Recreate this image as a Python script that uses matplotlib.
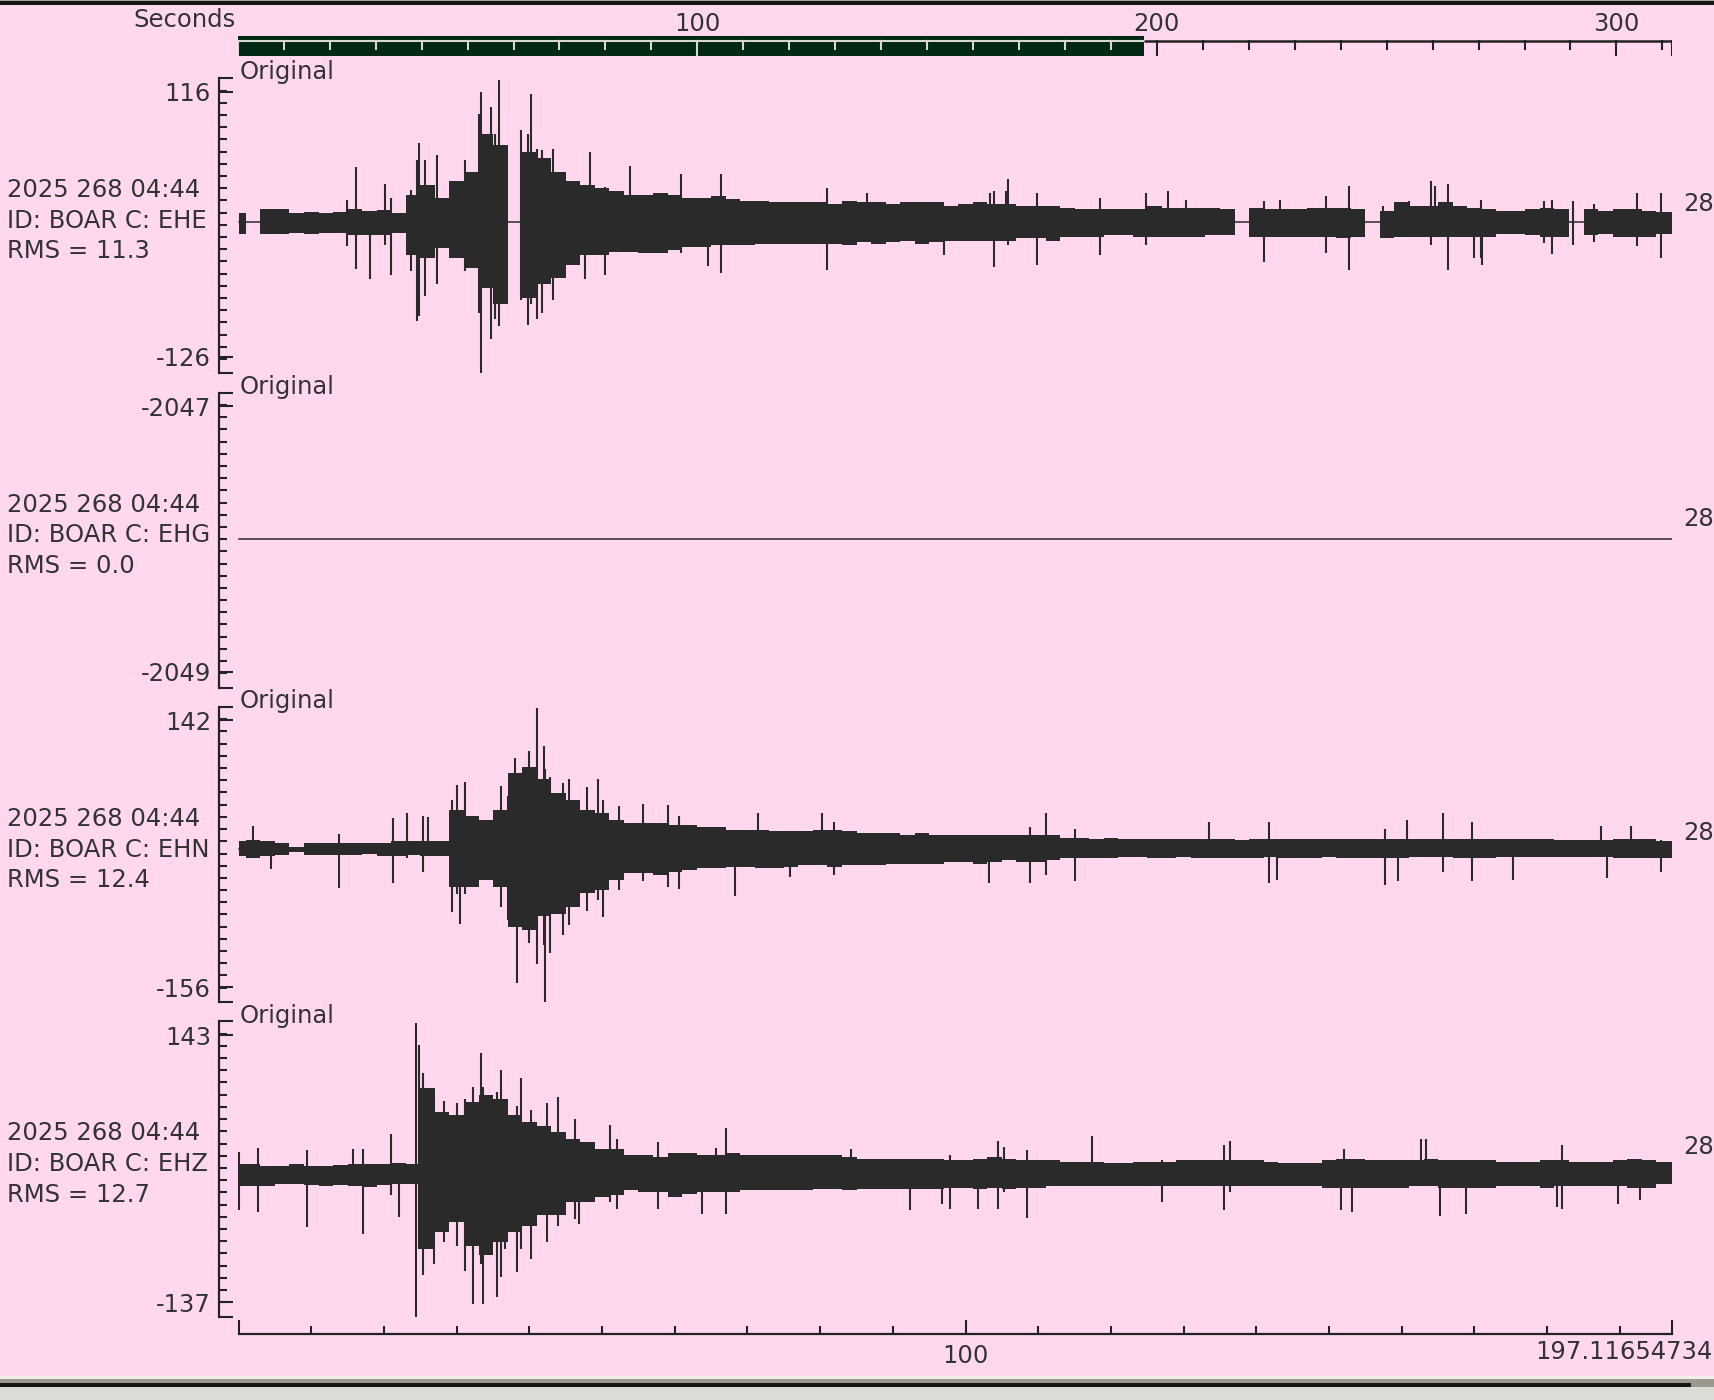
import numpy as np
import matplotlib
matplotlib.use('Agg')
import matplotlib.pyplot as plt
from matplotlib.patches import Rectangle
from matplotlib.ticker import FixedLocator, FixedFormatter, MultipleLocator

W, H = 1714, 1400
BG = '#ffd8f0'
INK = '#2a2a2a'
TXT = '#333333'
GREEN = '#002812'
LIGHT = '#d8d8d0'
FS = 17.5

t_end = 197.11654734
total_len = 312.0
env_t = np.arange(0, 197, 2)  # envelope read every 2 s (0..196)

# --- EHE (counts relative to trace mean) ---
ehe_mean = -3
ehe_up = [8, 0, 12, 12, 8, 9, 8, 9, 12, 10,
          11, 8, 25, 34, 22, 37, 46, 80, 70, 0,
          64, 58, 46, 37, 34, 31, 28, 25, 25, 26,
          25, 22, 22, 24, 21, 19, 19, 18, 18, 18,
          18, 16, 19, 18, 18, 16, 18, 18, 18, 15,
          16, 18, 16, 16, 15, 15, 15, 13, 12, 12,
          12, 12, 12, 15, 13, 13, 13, 13, 12, 0,
          13, 12, 12, 12, 13, 13, 13, 12, 0, 10,
          18, 15, 15, 18, 15, 13, 12, 10, 10, 12,
          13, 12, 0, 12, 10, 12, 12, 10, 9]
ehe_lo = [-11, 0, -11, -11, -10, -11, -10, -10, -12, -12,
          -12, -10, -30, -33, -24, -33, -42, -60, -75, 0,
          -69, -57, -51, -39, -30, -30, -27, -27, -28, -28,
          -26, -23, -23, -21, -21, -21, -20, -20, -20, -20,
          -20, -20, -21, -18, -20, -18, -17, -20, -18, -17,
          -17, -17, -17, -17, -15, -15, -17, -14, -14, -14,
          -12, -12, -14, -14, -14, -14, -14, -12, -12, 0,
          -14, -14, -14, -14, -14, -14, -15, -14, 0, -15,
          -14, -14, -14, -14, -14, -14, -14, -11, -11, -12,
          -14, -14, 0, -12, -11, -14, -14, -14, -11]
ehe_spk_t = [14.9, 16.2, 18.1, 20.1, 20.9, 23.7, 24.5, 24.8, 25.6, 27.3,
             31.1, 33.0, 33.3, 34.7, 35.3, 35.8, 38.8, 39.8, 40.2, 41.0,
             41.8, 43.3, 47.6, 48.4, 50.4, 53.9, 60.8, 64.5, 66.3, 80.9,
             86.4, 97.0, 103.4, 103.9, 105.6, 105.9, 109.8, 118.5, 124.8, 127.9,
             130.3, 141.1, 143.3, 149.6, 152.7, 157.4, 161.0, 164.0, 164.6, 166.4,
             170.0, 170.9, 171.1, 179.5, 180.7, 183.5, 186.4, 192.3, 195.7]
ehe_spk_hi = [20, 50, 10, 35, 22, 29, 57, 72, 57, 61,
              57, 99, 119, 105, 80, 130, 84, 80, 117, 67,
              66, 67, 34, 64, 32, 51, 44, 19, 44, 31,
              26, 13, 26, 28, 28, 39, 26, 22, 26, 28,
              20, 19, 20, 24, 33, 15, 19, 37, 33, 35,
              11, 20, 11, 19, 20, 19, 16, 26, 26]
ehe_spk_lo = [-22, -43, -52, -21, -48, -45, -90, -86, -68, -57,
              -45, -83, -139, -107, -89, -95, -71, -94, -75, -89,
              -83, -71, -52, -27, -48, -27, -28, -40, -47, -44,
              -18, -30, -15, -41, -15, -21, -39, -30, -21, -12,
              -12, -37, -12, -28, -44, -15, -12, -21, -12, -44,
              -33, -33, -39, -19, -29, -21, -18, -22, -33]

# --- EHN ---
ehn_mean = -2
ehn_up = [9, 10, 9, 7, 3, 7, 7, 7, 7, 7,
          7, 9, 9, 9, 9, 44, 37, 33, 44, 85,
          92, 78, 63, 55, 44, 40, 33, 29, 29, 29,
          27, 27, 25, 25, 22, 22, 22, 20, 20, 20,
          22, 22, 20, 18, 18, 18, 16, 18, 16, 16,
          16, 16, 16, 16, 16, 16, 16, 13, 13, 12,
          13, 12, 12, 12, 12, 12, 11, 11, 11, 10,
          11, 11, 12, 12, 11, 11, 11, 11, 11, 12,
          12, 11, 12, 11, 11, 12, 12, 11, 11, 11,
          11, 10, 10, 10, 10, 11, 11, 11, 9]
ehn_lo = [-8, -10, -8, -6, -3, -6, -6, -6, -6, -5,
          -7, -8, -6, -7, -8, -42, -42, -34, -42, -87,
          -90, -75, -72, -64, -49, -45, -34, -27, -27, -29,
          -25, -23, -21, -21, -20, -20, -21, -21, -20, -18,
          -18, -20, -18, -18, -18, -16, -16, -16, -16, -14,
          -14, -16, -14, -12, -14, -14, -12, -10, -10, -10,
          -10, -9, -9, -10, -10, -9, -10, -10, -10, -10,
          -10, -9, -10, -10, -10, -9, -10, -10, -10, -10,
          -10, -9, -9, -9, -10, -10, -10, -9, -9, -9,
          -9, -9, -9, -9, -9, -10, -10, -10, -10]
ehn_spk_t = [2.0, 4.4, 13.8, 21.2, 23.2, 25.3, 26.1, 29.4, 30.1, 30.5,
             31.1, 36.1, 37.0, 38.0, 38.3, 40.0, 41.0, 42.0, 42.1, 42.9,
             44.6, 45.4, 47.9, 49.5, 50.1, 52.3, 55.6, 59.1, 60.6, 68.3,
             71.5, 75.8, 80.2, 81.9, 103.2, 108.9, 111.0, 115.0, 133.5, 141.7,
             142.8, 157.7, 159.5, 160.7, 165.7, 169.6, 175.3, 187.4, 188.2, 191.5,
             195.7]
ehn_spk_hi = [26, 9, 17, 35, 41, 37, 36, 55, 72, 40,
              75, 71, 59, 102, 80, 110, 158, 115, 90, 81,
              74, 78, 70, 79, 55, 48, 51, 50, 37, 20,
              40, 15, 40, 31, 14, 25, 40, 23, 30, 30,
              10, 23, 10, 33, 40, 30, 10, 26, 10, 26,
              10]
ehn_spk_lo = [-8, -22, -43, -38, -10, -25, -8, -70, -50, -83,
              -50, -64, -79, -75, -150, -105, -128, -107, -172, -116,
              -96, -85, -69, -57, -76, -45, -36, -42, -44, -52,
              -15, -31, -15, -29, -38, -38, -29, -36, -8, -38,
              -34, -40, -36, -8, -25, -36, -34, -8, -32, -8,
              -25]

# --- EHZ ---
ehz_mean = -2
ehz_up = [10, 10, 8, 8, 10, 8, 8, 9, 10, 10,
          10, 11, 10, 89, 64, 61, 75, 82, 78, 61,
          54, 50, 43, 36, 33, 26, 26, 19, 19, 17,
          21, 21, 19, 19, 21, 19, 19, 19, 19, 19,
          19, 19, 17, 15, 15, 15, 15, 15, 15, 14,
          14, 15, 17, 15, 14, 14, 14, 12, 12, 12,
          11, 11, 12, 12, 12, 14, 14, 14, 14, 14,
          14, 12, 11, 11, 11, 14, 15, 15, 14, 14,
          14, 14, 15, 14, 14, 14, 14, 12, 12, 12,
          14, 14, 12, 12, 12, 14, 15, 14, 12]
ehz_lo = [-13, -13, -13, -11, -11, -12, -13, -12, -13, -14,
          -12, -11, -11, -79, -62, -51, -76, -86, -72, -62,
          -55, -44, -44, -30, -30, -25, -23, -18, -20, -20,
          -25, -22, -20, -20, -20, -18, -18, -18, -18, -18,
          -17, -17, -18, -17, -17, -17, -16, -17, -16, -15,
          -15, -17, -15, -17, -15, -15, -13, -13, -13, -13,
          -13, -13, -13, -13, -13, -13, -13, -13, -13, -13,
          -13, -13, -13, -13, -13, -15, -15, -15, -15, -15,
          -15, -13, -13, -15, -15, -15, -15, -13, -13, -13,
          -15, -13, -13, -13, -13, -13, -15, -15, -11]
ehz_spk_t = [0.1, 2.6, 9.4, 15.7, 17.1, 20.9, 22.0, 24.4, 24.8, 25.3,
             26.9, 28.2, 30.0, 31.1, 32.2, 33.3, 33.6, 35.5, 36.1, 36.7,
             38.3, 38.8, 40.2, 42.4, 44.0, 46.3, 46.8, 51.1, 52.0, 57.7,
             63.8, 65.7, 67.1, 84.2, 92.4, 96.8, 97.9, 101.7, 104.5, 105.3,
             108.4, 117.4, 127.0, 135.6, 136.4, 151.6, 152.1, 153.2, 162.6, 163.4,
             165.3, 168.9, 181.3, 182.1, 189.8, 192.8]
ehz_spk_hi = [22, 27, 24, 26, 26, 41, 11, 158, 135, 105,
              80, 76, 74, 78, 90, 126, 91, 85, 108, 70,
              71, 100, 66, 74, 80, 57, 30, 51, 36, 33,
              17, 27, 48, 26, 13, 13, 19, 12, 34, 28,
              24, 39, 14, 30, 34, 12, 26, 12, 36, 36,
              12, 12, 12, 30, 12, 13]
ehz_spk_lo = [-39, -41, -56, -13, -64, -23, -46, -152, -79, -107,
              -95, -72, -76, -102, -137, -95, -137, -130, -109, -79,
              -104, -79, -90, -72, -55, -48, -53, -30, -37, -37,
              -43, -18, -43, -16, -39, -32, -37, -37, -37, -20,
              -47, -13, -30, -39, -20, -39, -12, -41, -11, -11,
              -45, -43, -35, -37, -32, -28]

# --- EHG (dead channel, constant) ---
ehg_value = -2048

channels = ['EHE', 'EHG', 'EHN', 'EHZ']
rms_values = ['11.3', '0.0', '12.4', '12.7']
label_ticks = [(-126, 116), (-2049, -2047), (-156, 142), (-137, 143)]
ylims = [(-141.2, 128.2), (-2049.121, -2046.899), (-172.8, 156.9), (-152.2, 157.2)]
traces = {
    'EHE': (ehe_mean, ehe_up, ehe_lo, ehe_spk_t, ehe_spk_hi, ehe_spk_lo),
    'EHN': (ehn_mean, ehn_up, ehn_lo, ehn_spk_t, ehn_spk_hi, ehn_spk_lo),
    'EHZ': (ehz_mean, ehz_up, ehz_lo, ehz_spk_t, ehz_spk_hi, ehz_spk_lo),
}

panel_tops = [78.3, 392.7, 707.1, 1021.5]
panel_h = 295.0
ax_x0, ax_x1 = 219.3, 1671.6


def box(x0, y0, x1, y1):
    # pixel box (from top-left) -> figure fraction rect
    return [x0 / W, 1 - y1 / H, (x1 - x0) / W, (y1 - y0) / H]


plt.rcParams['font.family'] = 'DejaVu Sans'
fig = plt.figure(figsize=(W / 100, H / 100), dpi=100, facecolor=BG)

env_x = np.append(env_t, t_end)

for i, ch in enumerate(channels):
    top = panel_tops[i]
    ymin, ymax = ylims[i]
    ax = fig.add_axes(box(ax_x0, top, ax_x1, top + panel_h))
    ax.set_facecolor('none')
    ax.set_xlim(-(238.6 - ax_x0) / 7.27, t_end)
    ax.set_ylim(ymin, ymax)
    for s in ['top', 'right', 'bottom']:
        ax.spines[s].set_visible(False)
    ax.spines['left'].set_linewidth(1.6)
    ax.spines['left'].set_color('#222222')
    ax.set_xticks([])

    lo_lab, hi_lab = label_ticks[i]
    ax.yaxis.set_major_locator(FixedLocator([ymin, lo_lab, hi_lab, ymax]))
    ax.yaxis.set_major_formatter(FixedFormatter(['', str(lo_lab), str(hi_lab), '']))
    step = (ymax - ymin) / panel_h * 12.2
    ax.yaxis.set_minor_locator(FixedLocator(list(ymax - step * np.arange(1, 24))))
    ax.tick_params(axis='y', which='major', direction='in', length=10, width=1.5,
                   color='#222222', pad=6, labelsize=FS, labelcolor=TXT)
    ax.tick_params(axis='y', which='minor', direction='in', length=6, width=1.5,
                   color='#222222')

    if ch == 'EHG':
        ax.plot([0, t_end], [ehg_value, ehg_value], color=INK, lw=1.1)
    else:
        mean, up, lo, st, shi, slo = traces[ch]
        ax.plot([0, t_end], [mean, mean], color=INK, lw=1.1)
        ax.fill_between(env_x, mean + np.array(lo + [lo[-1]]),
                        mean + np.array(up + [up[-1]]),
                        step='mid', color=INK, linewidth=0)
        ax.vlines(st, mean + np.array(slo), mean + np.array(shi), color=INK, lw=1.5)

    fig.text(239.3 / W, 1 - (top + 1) / H, 'Original', fontsize=FS, color=TXT,
             ha='left', va='baseline')
    for k, line in enumerate(['2025 268 04:44', 'ID: BOAR C: ' + ch,
                              'RMS = ' + rms_values[i]]):
        fig.text(7 / W, 1 - (top + 112 + 30.5 * k) / H, line, fontsize=FS,
                 color=TXT, ha='left', va='center')
    fig.text(1683 / W, 1 - (top + 126) / H, '28', fontsize=FS, color=TXT,
             ha='left', va='center')

# bottom time axis
axb = fig.add_axes(box(238.6, 1320, 1671.6, 1334))
axb.set_facecolor('none')
axb.set_xlim(0, t_end)
axb.set_yticks([])
for s in ['top', 'right', 'left']:
    axb.spines[s].set_visible(False)
axb.spines['bottom'].set_linewidth(1.6)
axb.spines['bottom'].set_color('#222222')
axb.set_xticks([0, 100, t_end])
axb.set_xticklabels(['', '100', ''])
axb.xaxis.set_minor_locator(MultipleLocator(10))
axb.tick_params(axis='x', which='major', direction='in', length=10, width=1.5,
                color='#222222', pad=7, labelsize=FS, labelcolor=TXT)
axb.tick_params(axis='x', which='minor', direction='in', length=6, width=1.5,
                color='#222222')
fig.text(1535 / W, 1 - 1352 / H, '197.11654734', fontsize=FS, color=TXT,
         ha='left', va='center')

# top overview axis (whole record, shown window highlighted)
axt = fig.add_axes(box(237.8, 36, 1671.6, 56))
axt.set_xlim(0, total_len)
axt.set_ylim(0, 1)
axt.axis('off')
axt.add_patch(Rectangle((0, 0), t_end, 1, color=GREEN, lw=0))
yl = (56 - 40.5) / 20
axt.plot([0, t_end], [yl, yl], color=LIGHT, lw=1.5, solid_capstyle='butt')
axt.plot([t_end, total_len], [yl, yl], color='#222222', lw=1.8, solid_capstyle='butt')
for s in list(range(0, 320, 10)) + [total_len]:
    if s > total_len:
        continue
    major = (s % 100 == 0) or s == total_len
    c = LIGHT if s < t_end else '#222222'
    axt.plot([s, s], [yl, 0 if major else yl - 0.4], color=c, lw=1.5)
for s in [100, 200, 300]:
    axt.text(s, (56 - 23.5) / 20, str(s), fontsize=FS, color=TXT, ha='center',
             va='center', clip_on=False)
fig.text(236 / W, 1 - 20 / H, 'Seconds', fontsize=FS, color=TXT, ha='right', va='center')

# window frame
fig.patches.append(Rectangle((0, 1 - 5 / H), 1, 5 / H, transform=fig.transFigure,
                             color='#151515', lw=0))
fig.patches.append(Rectangle((0, 1 - 1.2 / H), 1, 1.2 / H, transform=fig.transFigure,
                             color='#a8a49c', lw=0))
fig.patches.append(Rectangle((0, 0), 1, 24 / H, transform=fig.transFigure,
                             color='#f2f0ee', lw=0))
fig.patches.append(Rectangle((0, 0), 1, 21 / H, transform=fig.transFigure,
                             color='#9c9890', lw=0))
fig.patches.append(Rectangle((0, 0), 1691 / W, 17 / H, transform=fig.transFigure,
                             color='#151515', lw=0))
fig.patches.append(Rectangle((0, 0), 1, 13 / H, transform=fig.transFigure,
                             color='#dcdcd6', lw=0))

fig.savefig('out.png', dpi=100, facecolor=BG)
